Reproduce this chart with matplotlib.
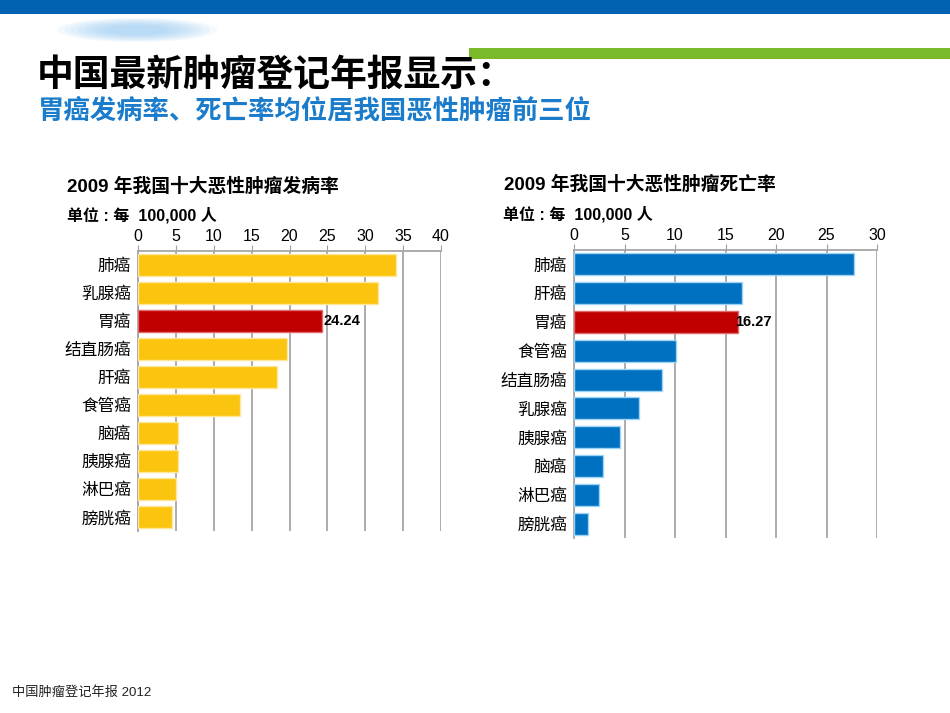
import matplotlib.pyplot as plt
from matplotlib.patches import Ellipse, Rectangle

plt.rcParams['font.family'] = ['Liberation Sans', 'Noto Sans CJK SC']

# 发病率数据
inc_labels = ['肺癌', '乳腺癌', '胃癌', '结直肠癌', '肝癌', '食管癌', '脑癌', '胰腺癌', '淋巴癌', '膀胱癌']
inc_values = [34.0, 31.7, 24.24, 19.7, 18.4, 13.5, 5.3, 5.3, 5.0, 4.5]

# 死亡率数据
mort_labels = ['肺癌', '肝癌', '胃癌', '食管癌', '结直肠癌', '乳腺癌', '胰腺癌', '脑癌', '淋巴癌', '膀胱癌']
mort_values = [27.7, 16.6, 16.27, 10.1, 8.7, 6.45, 4.55, 2.9, 2.5, 1.4]

inc_ticks = [0, 5, 10, 15, 20, 25, 30, 35, 40]
mort_ticks = [0, 5, 10, 15, 20, 25, 30]

W, H = 950, 713
fig = plt.figure(figsize=(W / 100, H / 100), dpi=100)
bg = fig.add_axes([0, 0, 1, 1])
bg.set_xlim(0, W)
bg.set_ylim(H, 0)
bg.axis('off')

# 顶部装饰
bg.add_patch(Rectangle((0, 0), W, 14, color='#0062b0', lw=0))
bg.add_patch(Rectangle((469, 48), W - 469, 11, color='#7ab929', lw=0))
for i in range(8):
    bg.add_patch(Ellipse((137, 30), 160 - i * 14, 24 - i * 2, color='#8cc6f2', alpha=0.1, lw=0))

bg.text(37, 76, '中国最新肿瘤登记年报显示：', fontsize=26.5, fontweight='heavy', color='black', va='center')
bg.text(38, 111, '胃癌发病率、死亡率均位居我国恶性肿瘤前三位', fontsize=19, fontweight='bold',
        color='#1a7cca', va='center')
bg.text(12, 693, '中国肿瘤登记年报 2012', fontsize=9.5, color='#222222', va='center')


def draw_chart(rect, labels, values, ticks, color, edge, title, title_xy, unit_xy, label_off):
    l, t, r, b = rect
    ax = fig.add_axes([l / W, 1 - b / H, (r - l) / W, (b - t) / H])
    y = range(len(labels))
    colors = [color] * len(labels)
    edges = [edge] * len(labels)
    colors[2] = '#c00000'
    edges[2] = '#e36a6a'
    ax.barh(y, values, height=0.76, color=colors, edgecolor=edges, linewidth=1, zorder=3)
    ax.set_ylim(len(labels) - 0.5, -0.5)
    ax.set_xlim(ticks[0], ticks[-1])
    ax.set_xticks(ticks)
    ax.set_yticks(list(y))
    ax.set_yticklabels(labels)
    ax.xaxis.tick_top()
    ax.tick_params(axis='x', length=4, color='#a0a0a0', labelsize=11.5, pad=1)
    ax.tick_params(axis='y', length=0, labelsize=12, pad=5)
    ax.grid(axis='x', color='#a6a6a6', lw=1.3, zorder=1)
    for s in ['right', 'bottom']:
        ax.spines[s].set_visible(False)
    for s in ['top', 'left']:
        ax.spines[s].set_color('#a6a6a6')
        ax.spines[s].set_linewidth(1.3)
    ax.annotate(f'{values[2]:.2f}', (values[2], 2), xytext=(label_off, 0), textcoords='offset points',
                va='center', ha='left', fontsize=10.5, fontweight='bold', zorder=4)
    bg.text(title_xy[0], title_xy[1], title, fontsize=13.5, fontweight='bold', va='center')
    bg.text(unit_xy[0], unit_xy[1], '单位 : 每  100,000 人', fontsize=11.5, fontweight='bold', va='center')


draw_chart((138, 251, 441, 531), inc_labels, inc_values, inc_ticks, '#fbc40e', '#fde79a',
           '2009 年我国十大恶性肿瘤发病率', (67, 187), (67, 215), 1)
draw_chart((574, 250, 877, 538), mort_labels, mort_values, mort_ticks, '#0070c0', '#9dd3f5',
           '2009 年我国十大恶性肿瘤死亡率', (504, 185), (503, 214), -2.5)

fig.savefig('out.png', dpi=100)
